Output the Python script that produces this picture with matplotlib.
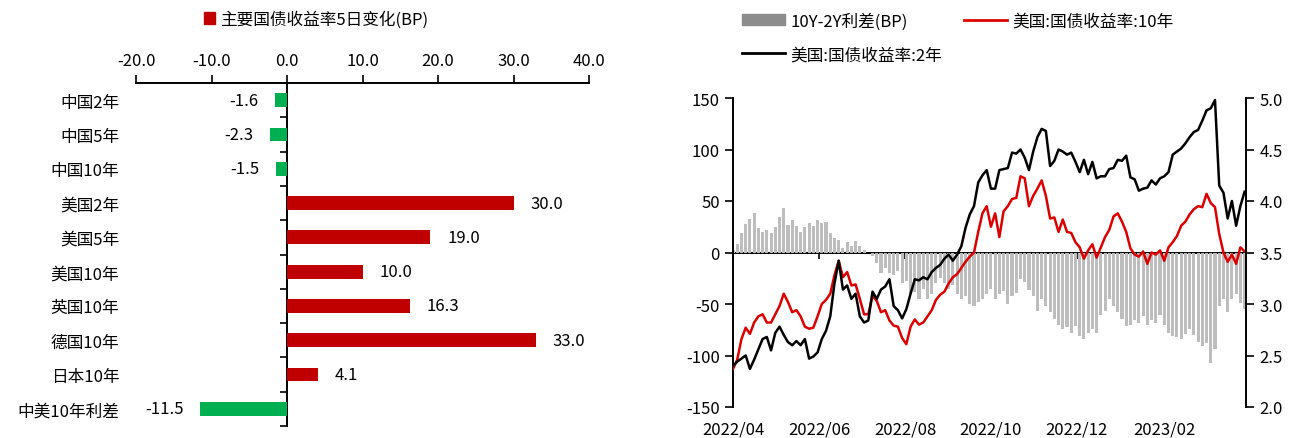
import numpy as np
import pandas as pd
import matplotlib
matplotlib.use("Agg")
import matplotlib.pyplot as plt
import matplotlib.dates as mdates
from matplotlib.patches import Patch
from matplotlib.lines import Line2D

plt.rcParams["font.family"] = ["Noto Sans CJK SC", "DejaVu Sans"]
plt.rcParams["axes.unicode_minus"] = False

# --- left panel: 5-day change of major govt bond yields (BP) ---
bond_names = ["中国2年", "中国5年", "中国10年", "美国2年", "美国5年",
              "美国10年", "英国10年", "德国10年", "日本10年", "中美10年利差"]
bond_change = [-1.6, -2.3, -1.5, 30.0, 19.0, 10.0, 16.3, 33.0, 4.1, -11.5]
bar_ticks = [-20, -10, 0, 10, 20, 30, 40]

# --- right panel: US yields (%) and 10Y-2Y spread (BP), 3-day samples ---
dates = pd.date_range("2022-04-01", periods=122, freq="3D")
us10y = [
    2.37, 2.46, 2.66, 2.77, 2.71, 2.82, 2.88, 2.90, 2.82, 2.82,
    2.90, 2.98, 3.10, 3.02, 2.92, 2.94, 2.88, 2.78, 2.76, 2.77,
    2.88, 3.00, 3.04, 3.10, 3.28, 3.42, 3.26, 3.31, 3.18, 3.19,
    3.05, 2.90, 2.90, 3.08, 3.03, 2.92, 2.94, 2.84, 2.79, 2.78,
    2.67, 2.61, 2.78, 2.85, 2.80, 2.82, 2.88, 2.94, 3.04, 3.09,
    3.12, 3.20, 3.26, 3.29, 3.35, 3.41, 3.46, 3.50, 3.70, 3.88,
    3.95, 3.75, 3.88, 3.65, 3.90, 3.95, 4.02, 4.03, 4.24, 4.22,
    3.95, 4.05, 4.12, 4.20, 4.05, 3.83, 3.84, 3.70, 3.82, 3.70,
    3.69, 3.60, 3.55, 3.44, 3.52, 3.58, 3.45, 3.55, 3.65, 3.72,
    3.85, 3.88, 3.80, 3.70, 3.54, 3.48, 3.46, 3.51, 3.39, 3.50,
    3.48, 3.52, 3.42, 3.55, 3.60, 3.66, 3.76, 3.80, 3.87, 3.92,
    3.95, 3.94, 4.07, 3.98, 3.94, 3.68, 3.50, 3.41, 3.48, 3.39,
    3.55, 3.51,
]
us2y = [
    2.40, 2.44, 2.47, 2.50, 2.37, 2.46, 2.56, 2.66, 2.68, 2.55,
    2.72, 2.78, 2.70, 2.63, 2.60, 2.64, 2.60, 2.66, 2.47, 2.49,
    2.53, 2.66, 2.74, 2.88, 3.20, 3.42, 3.14, 3.18, 3.05, 3.10,
    2.88, 2.82, 2.84, 3.12, 3.05, 3.14, 3.17, 3.24, 2.98, 2.94,
    2.86, 2.95, 3.10, 3.24, 3.23, 3.26, 3.24, 3.31, 3.35, 3.38,
    3.44, 3.48, 3.42, 3.48, 3.56, 3.74, 3.87, 3.95, 4.18, 4.25,
    4.30, 4.12, 4.12, 4.30, 4.31, 4.32, 4.47, 4.46, 4.50, 4.42,
    4.30, 4.48, 4.62, 4.70, 4.68, 4.34, 4.39, 4.50, 4.48, 4.45,
    4.47, 4.38, 4.28, 4.40, 4.26, 4.38, 4.22, 4.24, 4.24, 4.31,
    4.32, 4.40, 4.39, 4.44, 4.23, 4.21, 4.10, 4.12, 4.13, 4.20,
    4.16, 4.22, 4.24, 4.28, 4.45, 4.48, 4.51, 4.56, 4.62, 4.67,
    4.69, 4.78, 4.88, 4.90, 4.98, 4.15, 4.08, 3.83, 4.00, 3.76,
    3.95, 4.09,
]
spread_bp = [
    2, 8, 19, 28, 33, 38, 24, 20, 22, 19,
    25, 34, 43, 27, 32, 26, 20, 25, 29, 26,
    32, 29, 30, 19, 14, 12, 4, 10, 6, 11,
    6, 2, 0, -3, -10, -20, -15, -20, -22, -18,
    -30, -28, -40, -38, -45, -35, -45, -40, -30, -25,
    -30, -35, -32, -40, -45, -42, -50, -52, -48, -45,
    -40, -35, -45, -40, -37, -50, -42, -39, -26, -29,
    -36, -42, -57, -45, -52, -58, -65, -70, -74, -72,
    -78, -71, -81, -84, -78, -74, -78, -61, -57, -45,
    -52, -58, -65, -71, -70, -66, -68, -62, -70, -66,
    -68, -61, -70, -78, -81, -82, -84, -79, -74, -80,
    -87, -91, -88, -107, -94, -52, -45, -58, -45, -40,
    -49, -55,
]
month_ticks = ["2022-04-01", "2022-06-01", "2022-08-01", "2022-10-01",
               "2022-12-01", "2023-02-01"]

RED = "#C00000"
GREEN = "#00B050"
LINE_RED = "#DC0000"
FS = 12

fig = plt.figure(figsize=(13.01, 4.39), dpi=100)
W, H = 1301, 439

# ================= left panel =================
ax1 = fig.add_axes([136 / W, (H - 427) / H, (589 - 136) / W, (427 - 84) / H])
ypos = np.arange(len(bond_names))
colors = [RED if v >= 0 else GREEN for v in bond_change]
ax1.barh(ypos, bond_change, height=0.4, color=colors)
ax1.set_ylim(len(bond_names) - 0.5, -0.5)
ax1.set_xlim(bar_ticks[0], bar_ticks[-1])
ax1.xaxis.tick_top()
ax1.set_xticks(bar_ticks)
ax1.set_xticklabels([f"{t:.1f}" for t in bar_ticks], fontsize=FS)
ax1.tick_params(axis="x", direction="out", length=6, width=1.2, pad=4)
ax1.set_yticks(ypos)
ax1.set_yticklabels(bond_names, fontsize=FS)
ax1.tick_params(axis="y", length=0, pad=12)
for s in ["left", "right", "bottom"]:
    ax1.spines[s].set_visible(False)
ax1.spines["top"].set_linewidth(1.4)

for y, v in zip(ypos, bond_change):
    off = 12 if v >= 0 else -12
    ax1.annotate(f"{v:.1f}", (v, y), xytext=(off, 0), textcoords="offset points",
                 ha="left" if v >= 0 else "right", va="center", fontsize=FS)

# vertical zero line with ticks between categories
zero_frac = (0 - bar_ticks[0]) / (bar_ticks[-1] - bar_ticks[0])
sec1 = ax1.secondary_yaxis(zero_frac)
sec1.set_yticks(np.arange(len(bond_names) + 1) - 0.5)
sec1.set_yticklabels([])
sec1.tick_params(length=5, width=1.2, direction="out")
sec1.spines["left"].set_linewidth(1.4)
sec1.spines["right"].set_linewidth(1.4)

fig.legend(handles=[Patch(color=RED, label="主要国债收益率5日变化(BP)")],
           loc="center", bbox_to_anchor=(316 / W, 1 - 20 / H), frameon=False,
           fontsize=FS, handlelength=0.7, handleheight=0.7, handletextpad=0.3)

# ================= right panel =================
ax2 = fig.add_axes([733 / W, (H - 408) / H, (1246 - 733) / W, (408 - 99) / H])
ax2.bar(dates, spread_bp, width=2.2, color="#bdbdbd", linewidth=0)
ax2.set_ylim(-150, 150)
ax2.set_yticks(np.arange(-150, 151, 50))
ax2.tick_params(axis="y", labelsize=FS, direction="out", length=6, width=1.2)
x0 = pd.Timestamp("2022-04-01")
x1 = pd.Timestamp("2023-03-31")
ax2.set_xlim(x0, x1)
tick_dates = pd.to_datetime(month_ticks)
ax2.set_xticks(tick_dates)
ax2.xaxis.set_major_formatter(mdates.DateFormatter("%Y/%m"))
ax2.tick_params(axis="x", length=0, labelsize=FS, pad=10)
for s in ["top", "right", "bottom"]:
    ax2.spines[s].set_visible(False)
ax2.spines["left"].set_linewidth(1.4)

# zero line with month ticks
sec2 = ax2.secondary_xaxis(0.5)
sec2.set_alignment("bottom")
sec2.set_xticks(mdates.date2num(tick_dates))
sec2.set_xticklabels([])
sec2.tick_params(length=4, width=1.2, direction="out")
for s in ["top", "bottom"]:
    sec2.spines[s].set_linewidth(1.4)

ax3 = ax2.twinx()
ax3.plot(dates, us10y, color=LINE_RED, lw=1.8)
ax3.plot(dates, us2y, color="black", lw=1.8)
ax3.set_ylim(2.0, 5.0)
ax3.set_yticks(np.arange(2.0, 5.01, 0.5))
ax3.set_yticklabels([f"{t:.1f}" for t in np.arange(2.0, 5.01, 0.5)])
ax3.tick_params(axis="y", labelsize=FS, direction="out", length=6, width=1.2)
for s in ["top", "left", "bottom"]:
    ax3.spines[s].set_visible(False)
ax3.spines["right"].set_linewidth(1.4)
ax3.set_xlim(x0, x1)

handles = [
    Patch(color="#8c8c8c", label="10Y-2Y利差(BP)"),
    Line2D([], [], color="black", lw=2, label="美国:国债收益率:2年"),
    Line2D([], [], color=LINE_RED, lw=2, label="美国:国债收益率:10年"),
]
fig.legend(handles=handles, ncol=2, loc="upper left",
           bbox_to_anchor=(727 / W, 1 + 2 / H), frameon=False, fontsize=FS,
           handlelength=2.6, handleheight=0.6, handletextpad=0.3,
           columnspacing=1.3, labelspacing=1.0)

fig.savefig("out.png", dpi=100)
